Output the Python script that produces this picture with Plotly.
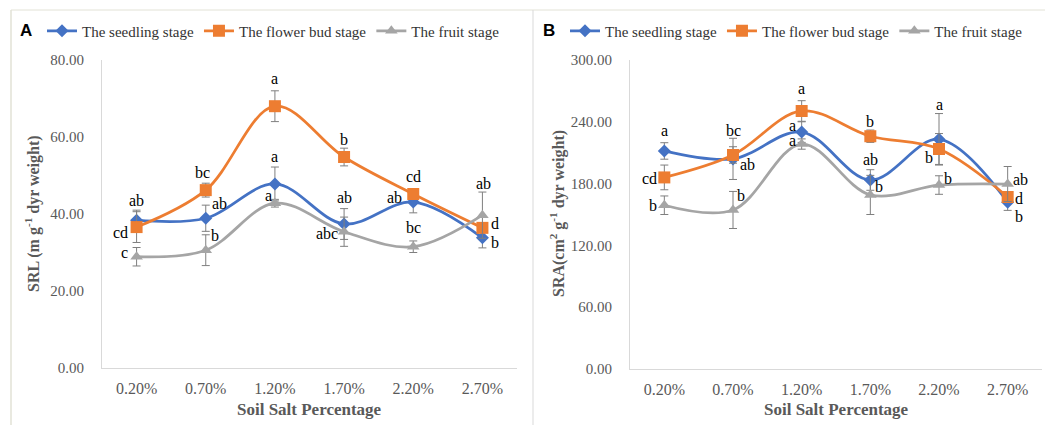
import plotly.graph_objects as go

# ---------------- data ----------------
categories = ["0.20%", "0.70%", "1.20%", "1.70%", "2.20%", "2.70%"]
series_names = ["The seedling stage", "The flower bud stage", "The fruit stage"]

srl_seedling = [38.4, 38.9, 47.8, 37.4, 43.1, 33.8]
srl_seedling_err = [2.6, 3.4, 4.4, 4.0, 2.8, 2.6]
srl_bud = [36.6, 46.2, 68.0, 54.8, 45.2, 36.4]
srl_bud_err = [4.0, 1.8, 4.0, 2.3, 1.3, 1.0]
srl_fruit = [28.9, 30.6, 42.8, 35.4, 31.5, 39.7]
srl_fruit_err = [2.4, 4.0, 1.0, 3.8, 1.5, 6.0]

sra_seedling = [211.7, 204.0, 230.0, 183.5, 223.0, 162.0]
sra_seedling_err = [8, 20, 10, 10, 25, 8]
sra_bud = [186.0, 207.8, 250.5, 226.0, 213.6, 167.0]
sra_bud_err = [12, 8, 10, 6, 15, 5]
sra_fruit = [159.0, 154.4, 218.4, 169.0, 178.6, 179.6]
sra_fruit_err = [9, 18, 5, 19, 9, 17]

srl_seedling_letters = ["ab", "ab", "a", "ab", "ab", "b"]
srl_bud_letters = ["cd", "bc", "a", "b", "cd", "d"]
srl_fruit_letters = ["c", "b", "a", "abc", "bc", "ab"]

sra_seedling_letters = ["a", "ab", "a", "ab", "a", "b"]
sra_bud_letters = ["cd", "bc", "a", "b", "b", "d"]
sra_fruit_letters = ["b", "b", "a", "b", "b", "ab"]

# ---------------- styling / layout ----------------
W, H = 1045, 427
colors = ["#4472C4", "#ED7D31", "#A5A5A5"]
symbols = ["diamond", "square", "triangle-up"]
msizes = [10, 12, 11]
SERIF = "Liberation Serif"
GREY_TXT = "#595959"

# label offsets (dx px, dy px up) for each point
srl_offsets = [
    [(0, 20), (14, 15), (0, 27), (0, 27), (-19, 5), (13, -5)],
    [(-16, -5), (-3, 18), (0, 28), (0, 18), (0, 17), (13, 4)],
    [(-12, 4), (9, 15), (-6, 8), (-17, -2), (0, 19), (1, 32)],
]
sra_offsets = [
    [(0, 20), (14, -6), (-9, 7), (0, 20), (0, 35), (11, -14)],
    [(-15, -1), (0, 24), (0, 22), (0, 15), (-10, -9), (11, -2)],
    [(-11, 0), (8, 14), (-9, 4), (9, 8), (9, 7), (13, 5)],
]

def px_x(p):
    return p / W

def px_y(p):
    return 1 - p / H

fig = go.Figure()

panels = [
    dict(xa="x", ya="y", legend="legend",
         vals=[srl_seedling, srl_bud, srl_fruit],
         errs=[srl_seedling_err, srl_bud_err, srl_fruit_err],
         letters=[srl_seedling_letters, srl_bud_letters, srl_fruit_letters],
         offsets=srl_offsets),
    dict(xa="x2", ya="y2", legend="legend2",
         vals=[sra_seedling, sra_bud, sra_fruit],
         errs=[sra_seedling_err, sra_bud_err, sra_fruit_err],
         letters=[sra_seedling_letters, sra_bud_letters, sra_fruit_letters],
         offsets=sra_offsets),
]

annotations = []
for p in panels:
    for i in range(3):
        fig.add_trace(go.Scatter(
            x=categories, y=p["vals"][i], name=series_names[i],
            xaxis=p["xa"], yaxis=p["ya"], legend=p["legend"],
            mode="lines+markers",
            line=dict(color=colors[i], width=2.75, shape="spline", smoothing=1.0),
            marker=dict(color=colors[i], symbol=symbols[i], size=msizes[i], line=dict(width=0)),
            error_y=dict(type="data", array=p["errs"][i], visible=True,
                         color="#7f7f7f", thickness=1, width=4),
        ))
        for j, cat in enumerate(categories):
            dx, dy = p["offsets"][i][j]
            annotations.append(dict(
                x=cat, y=p["vals"][i][j], xref=p["xa"], yref=p["ya"],
                text=p["letters"][i][j], showarrow=False,
                xanchor="center", yanchor="middle",
                xshift=dx, yshift=dy,
                font=dict(family=SERIF, size=16, color="#000000"),
            ))

def paper_text(xp, yp, text, size, color, family=SERIF, angle=0):
    return dict(x=px_x(xp), y=px_y(yp), xref="paper", yref="paper", showarrow=False,
                xanchor="center", yanchor="middle", text=text, textangle=angle,
                font=dict(family=family, size=size, color=color))

# axis titles & panel letters
annotations += [
    paper_text(32, 214, "<b>SRL (m g<sup>-1</sup> dyr weight)</b>", 16, GREY_TXT, angle=-90),
    paper_text(557, 214, "<b>SRA(cm<sup>2</sup> g<sup>-1</sup> dyr weight)</b>", 16, GREY_TXT, angle=-90),
    paper_text(309, 409, "<b>Soil Salt Percentage</b>", 17, GREY_TXT),
    paper_text(836, 409, "<b>Soil Salt Percentage</b>", 17, GREY_TXT),
    paper_text(26, 31, "<b>A</b>", 17, "#000000", family="Liberation Sans"),
    paper_text(549, 31, "<b>B</b>", 17, "#000000", family="Liberation Sans"),
]

frame_col = "#e2e2d6"
shapes = [
    dict(type="line", xref="paper", yref="paper", x0=px_x(11), x1=1, y0=px_y(10), y1=px_y(10),
         line=dict(color=frame_col, width=1)),
    dict(type="line", xref="paper", yref="paper", x0=px_x(11), x1=px_x(11), y0=px_y(10), y1=px_y(425),
         line=dict(color=frame_col, width=1.5)),
    dict(type="line", xref="paper", yref="paper", x0=px_x(533), x1=px_x(533), y0=px_y(10), y1=px_y(425),
         line=dict(color="#d9d9d9", width=1)),
]

xaxis_common = dict(type="category", showline=True, linecolor="#d9d9d9", linewidth=1,
                    showgrid=False, ticks="", zeroline=False, automargin=False,
                    tickfont=dict(family=SERIF, size=16, color=GREY_TXT),
                    ticklabelstandoff=6, range=[-0.5, 5.5])
yaxis_common = dict(showline=True, linecolor="#d9d9d9", linewidth=1, showgrid=False,
                    ticks="", zeroline=False, tickformat=".2f", automargin=False,
                    tickfont=dict(family=SERIF, size=15, color=GREY_TXT),
                    ticklabelstandoff=14)

legend_common = dict(orientation="h", xanchor="left", yanchor="middle",
                     font=dict(family=SERIF, size=15, color="#333333"),
                     bgcolor="rgba(0,0,0,0)", itemclick=False, tracegroupgap=0)

fig.update_layout(
    width=W, height=H,
    font=dict(family=SERIF),
    margin=dict(l=0, r=0, t=0, b=0, autoexpand=False),
    paper_bgcolor="white", plot_bgcolor="white",
    xaxis=dict(domain=[px_x(102), px_x(517)], anchor="y", **xaxis_common),
    yaxis=dict(domain=[px_y(368), px_y(60)], anchor="x", range=[0, 80], dtick=20, **yaxis_common),
    xaxis2=dict(domain=[px_x(630), px_x(1042)], anchor="y2", **xaxis_common),
    yaxis2=dict(domain=[px_y(369), px_y(60)], anchor="x2", range=[0, 300], dtick=60, **yaxis_common),
    legend=dict(x=px_x(42), y=px_y(31), **legend_common),
    legend2=dict(x=px_x(565), y=px_y(31), **legend_common),
    annotations=annotations,
    shapes=shapes,
    showlegend=True,
)

fig.write_html("out.html")
